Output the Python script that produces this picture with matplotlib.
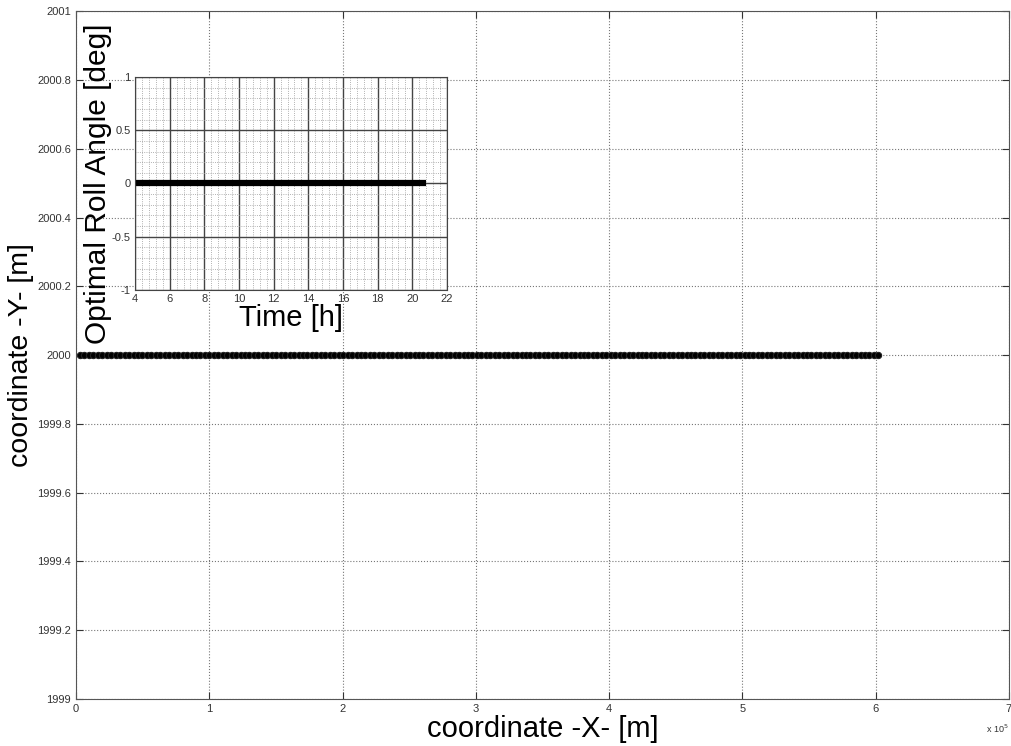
import numpy as np
import matplotlib
matplotlib.use("Agg")
import matplotlib.pyplot as plt
from matplotlib.ticker import MultipleLocator

plt.rcParams['font.family'] = ['Liberation Sans', 'DejaVu Sans']

# Data: path along X at constant Y, and roll angle vs time
x_start, x_end, n_pts = 3000.0, 602000.0, 180
path_x = np.linspace(x_start, x_end, n_pts)
path_y = np.full(n_pts, 2000.0)

time_h = [4.0, 6.0, 8.0, 10.0, 12.0, 14.0, 16.0, 18.0, 20.0, 20.8]
roll_deg = [0, 0, 0, 0, 0, 0, 0, 0, 0, 0]

main_xticks = [0, 1e5, 2e5, 3e5, 4e5, 5e5, 6e5, 7e5]
main_xticklabels = ['0', '1', '2', '3', '4', '5', '6', '7']
main_yticks = [1999, 1999.2, 1999.4, 1999.6, 1999.8, 2000, 2000.2, 2000.4, 2000.6, 2000.8, 2001]
main_yticklabels = ['1999', '1999.2', '1999.4', '1999.6', '1999.8', '2000',
                    '2000.2', '2000.4', '2000.6', '2000.8', '2001']
ins_xticks = [4, 6, 8, 10, 12, 14, 16, 18, 20, 22]
ins_yticks = [-1, -0.5, 0, 0.5, 1]
ins_yticklabels = ['-1', '-0.5', '0', '0.5', '1']

fig = plt.figure(figsize=(10.12, 7.46), dpi=100)
ax = fig.add_axes([0.0751, 0.063, 0.9219, 0.922])
ax.plot(path_x, path_y, '-o', color='black', lw=2.5, ms=4.5,
        markerfacecolor='black', markeredgecolor='#222222', markeredgewidth=0.8)
ax.set_xlim(0, 7e5)
ax.set_ylim(1999, 2001)
ax.set_xticks(main_xticks)
ax.set_xticklabels(main_xticklabels)
ax.set_yticks(main_yticks)
ax.set_yticklabels(main_yticklabels)
ax.tick_params(direction='in', labelsize=8, colors='#333333', length=5, top=True, right=True)
ax.grid(True, linestyle=':', color='#777777', lw=0.8)
for s in ax.spines.values():
    s.set_color('#555555')
ax.set_xlabel('coordinate -X- [m]', fontsize=21, labelpad=1)
ax.set_ylabel('coordinate -Y- [m]', fontsize=20.5, labelpad=2)
ax.text(1.0, -0.035, r'x 10$^{5}$', transform=ax.transAxes, fontsize=6.5,
        ha='right', va='top', color='#333333')

ins = fig.add_axes([0.1334, 0.6113, 0.3083, 0.2855])
ins.plot(time_h, roll_deg, color='black', lw=4.5, solid_capstyle='butt')
ins.set_xlim(4, 22)
ins.set_ylim(-1, 1)
ins.set_xticks(ins_xticks)
ins.set_yticks(ins_yticks)
ins.set_yticklabels(ins_yticklabels)
ins.xaxis.set_minor_locator(MultipleLocator(0.4))
ins.yaxis.set_minor_locator(MultipleLocator(0.1))
ins.grid(True, which='major', linestyle='-', color='#444444', lw=1.0)
ins.grid(True, which='minor', linestyle=':', color='#999999', lw=0.6)
ins.tick_params(which='both', direction='in', labelsize=8, colors='#333333', length=0, pad=3)
for s in ins.spines.values():
    s.set_color('#444444')
ins.set_xlabel('Time [h]', fontsize=21, labelpad=0)
ins.set_ylabel('Optimal Roll Angle [deg]', fontsize=21.5, labelpad=0)

fig.savefig('out.png', dpi=100)
